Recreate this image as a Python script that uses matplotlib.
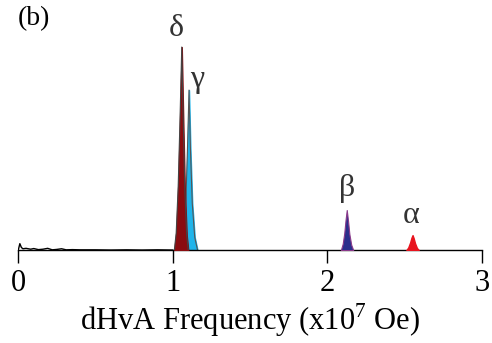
import matplotlib
matplotlib.use("Agg")
import matplotlib.pyplot as plt

# Peak outlines (x in 1e7 Oe, y relative amplitude)
delta_x = [1.010, 1.022, 1.035, 1.047, 1.058, 1.068, 1.078, 1.090, 1.100]
delta_y = [0.000, 0.080, 0.300, 0.620, 0.953, 0.600, 0.280, 0.070, 0.000]
gamma_x = [1.060, 1.074, 1.086, 1.096, 1.105, 1.114, 1.126, 1.142, 1.160]
gamma_y = [0.000, 0.080, 0.260, 0.500, 0.751, 0.480, 0.220, 0.060, 0.000]
beta_x = [2.088, 2.100, 2.110, 2.118, 2.126, 2.134, 2.143, 2.155, 2.168]
beta_y = [0.000, 0.030, 0.080, 0.140, 0.188, 0.140, 0.075, 0.025, 0.000]
alpha_x = [2.512, 2.524, 2.536, 2.545, 2.552, 2.559, 2.568, 2.580, 2.592]
alpha_y = [0.000, 0.012, 0.035, 0.058, 0.070, 0.056, 0.032, 0.010, 0.000]
noise_x = [0.00, 0.01, 0.02, 0.03, 0.05, 0.08, 0.10, 0.13, 0.16, 0.19, 0.22, 0.25, 0.28, 0.31, 0.35, 0.40, 0.50, 0.60, 0.70, 0.80, 0.90, 1.00]
noise_y = [0.000, 0.030, 0.012, 0.006, 0.008, 0.004, 0.007, 0.002, 0.004, 0.008, 0.001, 0.003, 0.006, 0.001, 0.002, 0.001, 0.001, 0.000, 0.001, 0.000, 0.001, 0.000]

xticks = [0, 1, 2, 3]
xlabel = r"dHvA Frequency (x10$^{7}$ Oe)"
labels = ["δ", "γ", "β", "α"]
label_x = [1.020, 1.160, 2.127, 2.542]
label_y = [1.040, 0.800, 0.290, 0.160]

plt.rcParams['font.family'] = ['Liberation Serif', 'DejaVu Serif']
plt.rcParams['mathtext.fontset'] = 'custom'
plt.rcParams['mathtext.rm'] = 'Liberation Serif'

fig = plt.figure(figsize=(4.92, 3.43), dpi=100)
ax = fig.add_axes([0.0372, 0.271, 0.942, 0.621])

ax.plot(noise_x, noise_y, color='black', lw=1.0)
ax.fill_between(gamma_x, gamma_y, color='#1fb4ea', zorder=2)
ax.plot(gamma_x, gamma_y, color='#555555', lw=0.8, zorder=2.1)
ax.fill_between(delta_x, delta_y, color='#8a0c10', zorder=3)
ax.plot(delta_x, delta_y, color='#444444', lw=0.8, zorder=3.1)
ax.fill_between(beta_x, beta_y, color='#2b2f8c', edgecolor='#8a3a8a', lw=0.8, zorder=3)
ax.fill_between(alpha_x, alpha_y, color='#e8141e', zorder=3)

for t, x, y in zip(labels, label_x, label_y):
    ax.text(x, y, t, fontsize=23, ha='center', va='center', color='#333333', clip_on=False)

ax.set_xlim(0, 3)
ax.set_ylim(0, 1.0)
ax.set_xticks(xticks)
ax.set_xticklabels([str(t) for t in xticks], fontsize=22)
ax.set_yticks([])
for s in ['top', 'right', 'left']:
    ax.spines[s].set_visible(False)
ax.spines['bottom'].set_linewidth(1.0)
ax.tick_params(axis='x', direction='out', length=9, width=1.0, pad=5)
ax.set_xlabel(xlabel, fontsize=22, labelpad=2)

fig.text(0.037, 0.945, "(b)", fontsize=20, ha='left', va='center')

fig.savefig("out.png", dpi=100)
